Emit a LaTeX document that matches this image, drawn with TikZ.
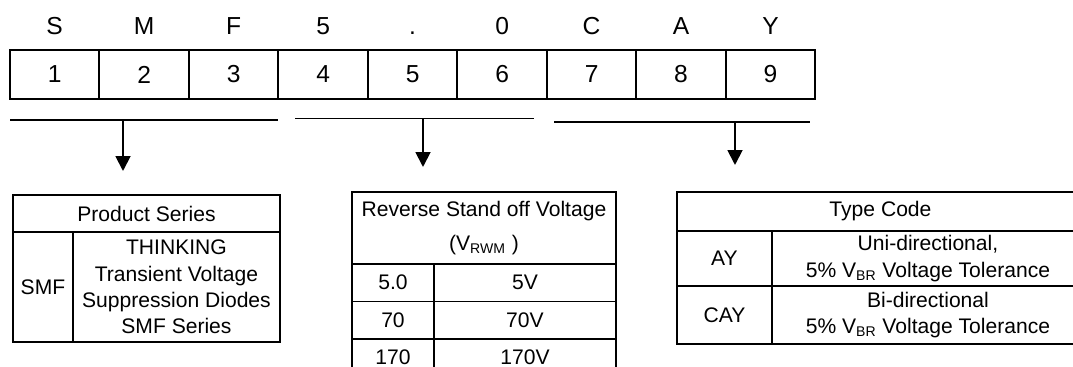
\documentclass[tikz,border=0pt]{standalone}
\usepackage{fontspec}
\setmainfont{Liberation Sans}
\usetikzlibrary{arrows.meta,positioning}

\begin{document}
\begin{tikzpicture}[x=0.02cm,y=-0.02cm,
  digit/.style={draw,line width=1.1pt,minimum width=1.79cm,minimum height=0.98cm,inner sep=0pt,outer sep=0pt,font=\fontsize{14}{16}\selectfont},
  letter/.style={font=\fontsize{14}{16}\selectfont,inner sep=0pt,anchor=base},
  tab/.style={draw,line width=1.1pt,inner sep=0pt,outer sep=0pt,align=center,font=\fontsize{12}{14.9}\selectfont},
  bracket/.style={line width=0.9pt},
  arrow/.style={-{Triangle[length=8.5pt,width=8.5pt]},line width=1.1pt}
]
\useasboundingbox (0,0) rectangle (1073,367);
\clip (0,0) rectangle (1073,367);
\node[digit] (c1) at (54.7,74.5) {1};
\foreach \i [remember=\i as \j (initially 1)] in {2,...,9}
  \node[digit,right=0pt of c\j] (c\i) {\i};
\foreach \ch [count=\i] in {S,M,F,5,.,0,C,A,Y}
  \path (c\i.center) ++(0,-39.5) node[letter] (l\i) {\ch};

\coordinate (g1a) at (10,120);
\coordinate (g1b) at (278,120);
\coordinate (g2a) at (295,118.5);
\coordinate (g2b) at (534,118.5);
\coordinate (g3a) at (554,122);
\coordinate (g3b) at (810,122);
\draw[bracket] (g1a) -- (g1b);
\draw[bracket] (g2a) -- (g2b);
\draw[bracket] (g3a) -- (g3b);
\coordinate (a1) at (123,120);
\coordinate (t1) at (123,171);
\coordinate (a2) at (423,118.5);
\coordinate (t2) at (423,167);
\coordinate (a3) at (735,122);
\coordinate (t3) at (735,165);
\draw[arrow] (a1) -- (t1);
\draw[arrow] (a2) -- (t2);
\draw[arrow] (a3) -- (t3);

\node[tab,minimum width=5.34cm,minimum height=0.74cm,anchor=north west] (pshead) at (13,195) {Product Series};
\node[tab,minimum width=1.2cm,minimum height=2.2cm,below right=0pt of pshead.south west] (psl) {SMF};
\node[tab,minimum width=4.14cm,minimum height=2.2cm,right=0pt of psl] (psr) {THINKING\\Transient Voltage\\Suppression Diodes\\SMF Series};

\node[tab,minimum width=5.28cm,minimum height=1.44cm,anchor=north west,font=\fontsize{12}{19.3}\selectfont] (rvhead) at (352,192) {Reverse Stand off Voltage\\(V\textsubscript{RWM} )};
\node[tab,minimum width=1.64cm,minimum height=0.75cm,below right=0pt of rvhead.south west] (rv1l) {5.0};
\node[tab,minimum width=3.64cm,minimum height=0.75cm,right=0pt of rv1l] (rv1r) {5V};
\node[tab,minimum width=1.64cm,minimum height=0.75cm,below=0pt of rv1l] (rv2l) {70};
\node[tab,minimum width=3.64cm,minimum height=0.75cm,right=0pt of rv2l] (rv2r) {70V};
\node[tab,minimum width=1.64cm,minimum height=0.75cm,below=0pt of rv2l] (rv3l) {170};
\node[tab,minimum width=3.64cm,minimum height=0.75cm,right=0pt of rv3l] (rv3r) {170V};

\node[tab,minimum width=8.14cm,minimum height=0.78cm,anchor=north west] (tchead) at (677,192) {Type Code};
\node[tab,minimum width=1.9cm,minimum height=1.1cm,below right=0pt of tchead.south west] (tc1l) {AY};
\node[tab,minimum width=6.24cm,minimum height=1.1cm,right=0pt of tc1l] (tc1r) {Uni-directional,\\5\% V\textsubscript{BR} Voltage Tolerance};
\node[tab,minimum width=1.9cm,minimum height=1.16cm,below=0pt of tc1l] (tc2l) {CAY};
\node[tab,minimum width=6.24cm,minimum height=1.16cm,right=0pt of tc2l] (tc2r) {Bi-directional\\5\% V\textsubscript{BR} Voltage Tolerance};
\end{tikzpicture}
\end{document}
